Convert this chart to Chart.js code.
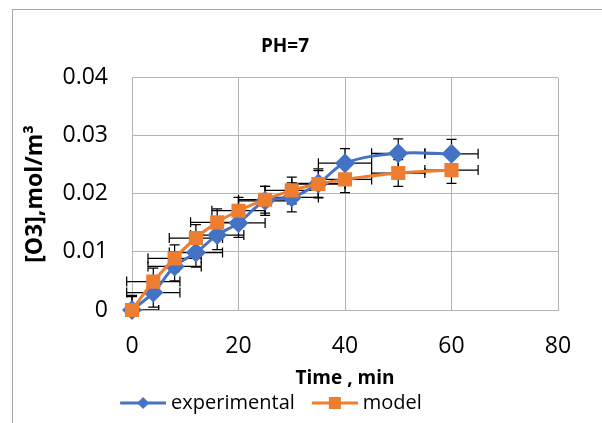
<!DOCTYPE html>
<html>
<head>
<meta charset="utf-8">
<script src="https://cdn.jsdelivr.net/npm/chart.js@4.4.1/dist/chart.umd.min.js"></script>
<style>
  html, body { margin: 0; padding: 0; background: #fff; }
  #wrap { position: relative; width: 602px; height: 423px; overflow: hidden; }
  #frame { position: absolute; left: 12px; top: 9px; width: 700px; height: 500px;
           border-left: 1px solid #a6a6a6; border-top: 1px solid #a6a6a6; }
  #chart { position: absolute; left: 0; top: 0; }
</style>
</head>
<body>
<div id="wrap">
  <div id="frame"></div>
  <canvas id="chart" width="602" height="423"></canvas>
</div>
<script>
// time (min)
const times = [0, 4, 8, 12, 16, 20, 25, 30, 35, 40, 50, 60];
// [O3], mol/m3
const experimental = [0, 0.003, 0.0075, 0.0099, 0.0129, 0.015, 0.0188, 0.0194, 0.0218, 0.0253, 0.027, 0.0269];
const model = [0, 0.0049, 0.0089, 0.0124, 0.0151, 0.0171, 0.019, 0.0206, 0.0217, 0.0225, 0.0236, 0.0241];
// error bar sizes
const timeError = 5;
const experimentalError = 0.0025;
const modelError = 0.0023;
const xTicks = [0, 20, 40, 60, 80];
const yTicks = [0, 0.01, 0.02, 0.03, 0.04];

const BLUE = '#4472C4';
const ORANGE = '#ED7D31';
const FONT = "'Open Sans', sans-serif";
const SWATCH_BOX = 55;

function toPoints(values) {
    return times.map((t, i) => ({ x: t, y: values[i] }));
}

// legend swatch: line with marker, like the spreadsheet legend
function legendSwatch(color, marker) {
    const c = document.createElement('canvas');
    c.width = SWATCH_BOX + 10;
    c.height = 16;
    const g = c.getContext('2d');
    const x0 = c.width - 46, mid = c.width - 23;
    g.strokeStyle = color;
    g.lineWidth = 3;
    g.beginPath();
    g.moveTo(x0, 8);
    g.lineTo(c.width, 8);
    g.stroke();
    g.fillStyle = color;
    g.beginPath();
    if (marker === 'diamond') {
        g.moveTo(mid, 2); g.lineTo(mid + 6, 8); g.lineTo(mid, 14); g.lineTo(mid - 6, 8);
    } else {
        g.rect(mid - 6, 2, 12, 12);
    }
    g.fill();
    return c;
}

const errorBars = {
    id: 'errorBars',
    beforeDatasetsDraw(chart) {
        const { ctx, chartArea } = chart;
        const xs = chart.scales.x, ys = chart.scales.y;
        const cap = 5;
        ctx.save();
        ctx.beginPath();
        ctx.rect(chartArea.left - 6, chartArea.top, chartArea.right - chartArea.left + 6, chartArea.bottom - chartArea.top);
        ctx.clip();
        ctx.strokeStyle = '#000';
        ctx.lineWidth = 1.25;
        chart.data.datasets.forEach(ds => {
            ds.data.forEach(p => {
                const px = xs.getPixelForValue(p.x);
                const py = ys.getPixelForValue(p.y);
                const x0 = xs.getPixelForValue(p.x - ds.xErr);
                const x1 = xs.getPixelForValue(p.x + ds.xErr);
                const y0 = ys.getPixelForValue(p.y - ds.yErr);
                const y1 = ys.getPixelForValue(p.y + ds.yErr);
                ctx.beginPath();
                ctx.moveTo(x0, py); ctx.lineTo(x1, py);
                ctx.moveTo(x0, py - cap); ctx.lineTo(x0, py + cap);
                ctx.moveTo(x1, py - cap); ctx.lineTo(x1, py + cap);
                ctx.moveTo(px, y0); ctx.lineTo(px, y1);
                ctx.moveTo(px - cap, y0); ctx.lineTo(px + cap, y0);
                ctx.moveTo(px - cap, y1); ctx.lineTo(px + cap, y1);
                ctx.stroke();
            });
        });
        ctx.restore();
    }
};

// legend sits a bit left of centre in the original
const legendShift = {
    id: 'legendShift',
    afterLayout(chart) {
        chart.legend.right -= 42;
    }
};

const ctx = document.getElementById('chart').getContext('2d');
new Chart(ctx, {
    type: 'line',
    data: {
        datasets: [{
            label: 'experimental',
            data: toPoints(experimental),
            xErr: timeError,
            yErr: experimentalError,
            borderColor: BLUE,
            backgroundColor: BLUE,
            borderWidth: 3,
            pointStyle: 'rectRot',
            pointRadius: 10,
            pointBorderWidth: 0,
            tension: 0.35,
            clip: 10,
            order: 1
        }, {
            label: 'model',
            data: toPoints(model),
            xErr: timeError,
            yErr: modelError,
            borderColor: ORANGE,
            backgroundColor: ORANGE,
            borderWidth: 3,
            pointStyle: 'rect',
            pointRadius: 10,
            pointBorderWidth: 0,
            tension: 0.35,
            clip: 10,
            order: 0
        }]
    },
    options: {
        responsive: false,
        animation: false,
        devicePixelRatio: 1,
        layout: { padding: { left: 12, right: 44, top: 0, bottom: 0 } },
        scales: {
            x: {
                type: 'linear',
                min: 0,
                max: 80,
                afterBuildTicks: s => { s.ticks = xTicks.map(v => ({ value: v })); },
                afterFit: s => { s.height = 80; },
                grid: { color: '#b4b4b4', lineWidth: 1, drawTicks: false },
                border: { color: '#b4b4b4' },
                ticks: { color: '#000', font: { family: FONT, size: 23 }, padding: 23 },
                title: {
                    display: true, text: 'Time , min', color: '#000',
                    font: { family: FONT, size: 19, weight: 'bold' },
                    padding: { top: 0, bottom: 0 }
                }
            },
            y: {
                min: 0,
                max: 0.04,
                afterBuildTicks: s => { s.ticks = yTicks.map(v => ({ value: v })); },
                afterFit: s => { s.width = 120; },
                grid: { color: '#b4b4b4', lineWidth: 1, drawTicks: false },
                border: { color: '#b4b4b4' },
                ticks: {
                    color: '#000', font: { family: FONT, size: 23 }, padding: 24,
                    callback: v => v === 0 ? '0' : v.toFixed(2)
                },
                title: {
                    display: true, text: '[O3],mol/m³', color: '#000',
                    font: { family: FONT, size: 23, weight: 'bold' },
                    padding: { top: 10, bottom: 0 }
                }
            }
        },
        plugins: {
            title: {
                display: true, text: 'PH=7', color: '#000',
                font: { family: FONT, size: 19, weight: 'bold' },
                padding: { top: 35, bottom: 20 }
            },
            legend: {
                position: 'bottom',
                labels: {
                    color: '#000',
                    font: { family: FONT, size: 20 },
                    usePointStyle: true,
                    pointStyleWidth: SWATCH_BOX,
                    padding: 3,
                    sort: (a, b) => a.datasetIndex - b.datasetIndex,
                    generateLabels: chart => chart.data.datasets.map((ds, i) => ({
                        text: ds.label,
                        datasetIndex: i,
                        fontColor: '#000',
                        pointStyle: legendSwatch(ds.borderColor, i === 0 ? 'diamond' : 'square'),
                        lineWidth: 0,
                        strokeStyle: ds.borderColor,
                        fillStyle: ds.borderColor
                    }))
                }
            },
            tooltip: { enabled: false }
        }
    },
    plugins: [errorBars, legendShift]
});
</script>
</body>
</html>
